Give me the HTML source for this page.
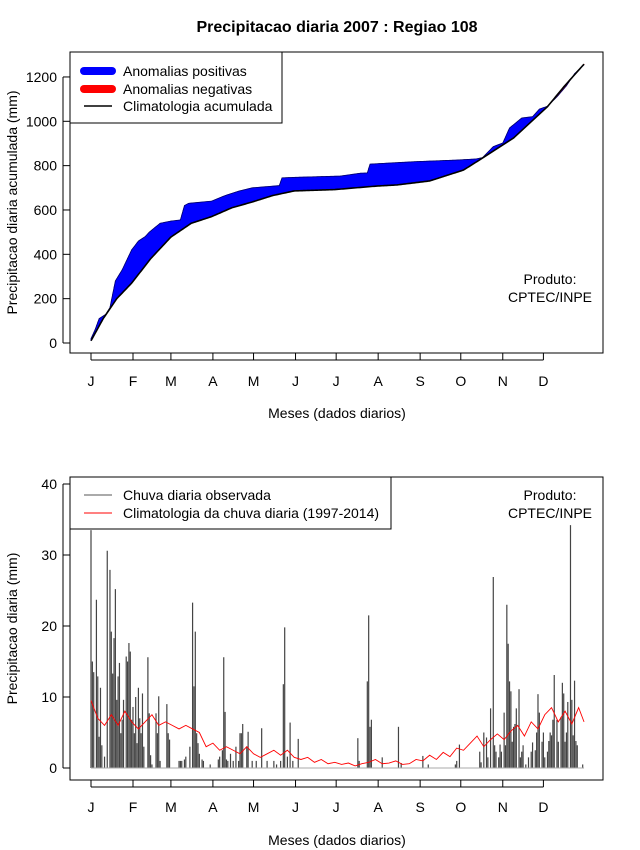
<!DOCTYPE html>
<html><head><meta charset="utf-8"><style>
body{margin:0;background:#fff}
svg{display:block;font-family:"Liberation Sans",sans-serif}
</style></head><body>
<svg id="c" width="640" height="850" viewBox="0 0 640 850" xmlns="http://www.w3.org/2000/svg">
<rect width="640" height="850" fill="#fff"/>
<text x="337" y="32" text-anchor="middle" font-size="16" font-weight="bold">Precipitacao diaria 2007 : Regiao 108</text>
<g id="top"></g>
<g id="bot"></g>
</svg>
<script>
const months = ["J","F","M","A","M","J","J","A","S","O","N","D"];
const monthStartDays = [1,32,60,91,121,152,182,213,244,274,305,335];
// Top panel: cumulative values at knot days
const obsCumDays = [1,4,7,12,15,19,24,31,36,41,44,48,52,60,67,70,73,90,100,110,120,140,142,155,185,200,205,207,240,270,285,290,298,305,310,319,327,332,338,345,352,358,365];
const obsCumVals = [20,60,110,130,160,280,330,420,460,480,500,520,540,550,555,620,630,640,665,685,700,710,745,748,753,766,767,807,818,825,830,836,886,902,970,1015,1021,1055,1068,1110,1160,1215,1255];
const climCumDays = [1,10,20,31,45,60,75,90,105,120,135,151,181,212,227,251,276,290,313,338,350,358,365];
const climCumVals = [10,110,200,270,380,478,540,570,610,636,665,686,692,708,713,731,780,834,925,1066,1155,1210,1258];
const topYTicks = [0,200,400,600,800,1000,1200];
// Bottom panel: daily observed rain
const obsDays = [1,2,3,5,6,7,8,9,11,13,15,16,17,18,19,20,21,22,23,24,25,27,28,29,30,31,32,33,34,35,36,37,38,39,40,43,44,45,46,49,50,51,52,57,58,59,66,67,68,70,71,74,76,77,78,79,80,81,83,84,89,95,96,98,99,100,101,102,104,106,108,110,111,112,113,116,117,120,123,127,131,136,138,141,143,144,146,148,150,154,198,199,205,206,207,208,216,228,230,246,250,270,271,273,288,289,291,293,294,296,298,299,300,302,303,304,306,307,308,309,310,311,312,313,314,315,317,318,319,320,322,324,326,327,329,330,331,332,334,335,336,338,339,340,341,342,343,345,346,348,349,350,351,352,353,355,356,357,358,359,360,364];
const obsVals = [33.5,15,13.5,23.7,12.9,4.4,11.3,3.2,1.6,30.6,27.9,19.2,13.3,18.3,25.2,9.6,12.9,14.8,4.9,6.8,9.6,15.7,15,17.6,16.4,6.8,8.6,4.9,10,3.5,11.3,7,4.9,10.5,3,15.6,7.7,1.8,0.5,7.7,4.9,10.1,1,9,4.9,4,1,1,1,1.2,1.6,3,23.3,11.5,19.2,4.9,3.5,2,1.2,1,0.5,1.2,1.6,2.5,15.6,7.9,1.2,1,2,1,3,1,4.9,4.9,6.2,3,5.1,1,1,5.6,1,1,0.5,1,11.8,19.8,1.6,6.4,1,4.1,4.2,1,12.2,21.5,5.8,6.8,1.5,5.8,0.7,1.7,0.5,0.5,1,3.3,2.3,0.8,5,4.3,1.5,8.4,26.9,3.2,2.3,1.5,3.3,2.3,7.8,3.2,23,17.5,12.2,10.8,3.7,5.8,6.2,8.4,11.1,1.5,2.3,3.2,0.5,1.5,2.3,3.6,2.5,5,10.4,7.8,3.7,5,1.5,2.3,3.8,5,4.6,6.8,13.1,6.8,3.7,7.2,12,10.5,3.7,5,9.3,34.2,9.6,4.6,12.3,3.8,3.2,0.5];
const climVals = [9.5,7,6,7.5,6,8,6.5, 5.5,6.5,7.5,6,6.5, 6,5.5,6,5.5,5,3, 3.5,2.5,3,2.5,2,3, 2,1.5,2,2.5,1.8,2.5,1.5, 1.2,1.5,0.8,1.2,0.6,0.8, 0.5,0.7,0.3,0.6,0.8,1.2, 0.6,0.7,1.0,0.5,0.6,1.2, 1.0,1.8,1.2,2.2,1.6,2.8, 2.5,3.5,4.5,3.0,4.0,4.8, 4.0,5.2,6.0,4.5,6.5,5.5, 7.5,8.5,6.5,8.0,6.2,8.5, 6.5];
const botYTicks = [0,10,20,30,40];

const NS="http://www.w3.org/2000/svg";
function mk(tag,attrs,parent){const e=document.createElementNS(NS,tag);for(const k in attrs)e.setAttribute(k,attrs[k]);parent.appendChild(e);return e;}
const xDay = d => 91 + (d-1)*1.3545;
const yTop = v => 343 - v*0.2217;
const yBot = v => 768 - v*7.1;
function interp(days,vals,d){for(let i=0;i<days.length-1;i++){if(d<=days[i+1]){const t=(d-days[i])/(days[i+1]-days[i]);return vals[i]+t*(vals[i+1]-vals[i]);}}return vals[vals.length-1];}

function axes(g,box,yTicks,yf,yTitle,xLabY,xTitleY,name){
  const r=mk('rect',{x:box[0],y:box[1],width:box[2]-box[0],height:box[3]-box[1],fill:'none',stroke:'#000','stroke-width':1},g);
  
  
  yTicks.forEach(v=>{
    const y=yf(v);
    const l=mk('line',{x1:box[0]-7,x2:box[0],y1:y,y2:y,stroke:'#000'},g);
    
    
    const t=mk('text',{x:box[0]-13,y:y+5,'text-anchor':'end','font-size':14},g);
    t.textContent=v;
    
    
  });
  const yl=mk('line',{x1:box[0]-7,x2:box[0]-7,y1:yf(yTicks[0]),y2:yf(yTicks[yTicks.length-1]),stroke:'#000'},g);
  
  
  monthStartDays.forEach((d,i)=>{
    const x=xDay(d);
    const l=mk('line',{x1:x,x2:x,y1:box[3],y2:box[3]+7,stroke:'#000'},g);
    
    
    const t=mk('text',{x:x,y:xLabY,'text-anchor':'middle','font-size':14},g);
    t.textContent=months[i];
    
    
  });
  const xl=mk('line',{x1:xDay(1),x2:xDay(monthStartDays[11]),y1:box[3]+7,y2:box[3]+7,stroke:'#000'},g);
  
  
  const xt=mk('text',{x:337,y:xTitleY,'text-anchor':'middle','font-size':14},g);
  xt.textContent='Meses (dados diarios)';
  
  
  const cy=(box[1]+box[3])/2;
  const yt=mk('text',{x:0,y:0,'text-anchor':'middle','font-size':14,transform:`translate(17,${cy}) rotate(-90)`},g);
  yt.textContent=yTitle;
  
  
}

// TOP PANEL
const topG=document.getElementById('top');
for(let d=1;d<365;d++){
  const o1=interp(obsCumDays,obsCumVals,d),o2=interp(obsCumDays,obsCumVals,d+1);
  const c1=interp(climCumDays,climCumVals,d),c2=interp(climCumDays,climCumVals,d+1);
  const col=((o1+o2)>=(c1+c2))?'#0000ff':'#ff0000';
  const p=mk('polygon',{points:`${xDay(d)-0.2},${yTop(o1)} ${xDay(d+1)+0.2},${yTop(o2)} ${xDay(d+1)+0.2},${yTop(c2)} ${xDay(d)-0.2},${yTop(c1)}`,fill:col,stroke:col,'stroke-width':0.4},topG);
  
  
}
let op='',cp='';
for(let d=1;d<=365;d++){op+=(d==1?'M':'L')+xDay(d).toFixed(2)+','+yTop(interp(obsCumDays,obsCumVals,d)).toFixed(2);cp+=(d==1?'M':'L')+xDay(d).toFixed(2)+','+yTop(interp(climCumDays,climCumVals,d)).toFixed(2);}
const ol=mk('path',{d:op,fill:'none',stroke:'#00006a','stroke-width':0.8},topG);


const cl=mk('path',{d:cp,fill:'none',stroke:'#000','stroke-width':1.6},topG);


axes(topG,[70,52,603,353],topYTicks,yTop,'Precipitacao diaria acumulada (mm)',386,418,'top');
const tl=mk('g',{},topG);


mk('rect',{x:70,y:52,width:212,height:71,fill:'#fff',stroke:'#000'},tl);
[['Anomalias positivas','#0000ff',8,71],['Anomalias negativas','#ff0000',8,89],['Climatologia acumulada','#000',1.5,106]].forEach(e=>{
  const l=mk('line',{x1:84,x2:112,y1:e[3],y2:e[3],stroke:e[1],'stroke-width':e[2],'stroke-linecap':e[2]>2?'round':'butt'},tl);
  
  
  const t=mk('text',{x:123,y:e[3]+5,'font-size':14},tl);
  t.textContent=e[0];
  
  
});
const p1=mk('text',{x:550,y:284,'text-anchor':'middle','font-size':14},topG);p1.textContent='Produto:';


const p2=mk('text',{x:550,y:302,'text-anchor':'middle','font-size':14},topG);p2.textContent='CPTEC/INPE';



// BOTTOM PANEL
const botG=document.getElementById('bot');
obsDays.forEach((d,i)=>{
  const l=mk('line',{x1:xDay(d),x2:xDay(d),y1:yBot(0),y2:yBot(obsVals[i]||0),stroke:'#444','stroke-width':1.2},botG);
  
  
});
const base=mk('line',{x1:xDay(1),x2:xDay(365),y1:yBot(0),y2:yBot(0),stroke:'#aaa','stroke-width':1},botG);


let rp='';
climVals.forEach((v,i)=>{const d=Math.min(1+5*i,365);rp+=(i==0?'M':'L')+xDay(d).toFixed(2)+','+yBot(v).toFixed(2);});
const rl=mk('path',{d:rp,fill:'none',stroke:'#ff0000','stroke-width':0.9},botG);


axes(botG,[70,477,603,780],botYTicks,yBot,'Precipitacao diaria (mm)',812,845,'bottom');
const bl=mk('g',{},botG);


mk('rect',{x:70,y:477,width:321,height:52,fill:'#fff',stroke:'#000'},bl);
[['Chuva diaria observada','#555',495],['Climatologia da chuva diaria (1997-2014)','#ff0000',513]].forEach(e=>{
  const l=mk('line',{x1:84,x2:112,y1:e[2],y2:e[2],stroke:e[1],'stroke-width':1},bl);
  
  
  const t=mk('text',{x:123,y:e[2]+5,'font-size':14},bl);
  t.textContent=e[0];
  
  
});
const p3=mk('text',{x:550,y:500,'text-anchor':'middle','font-size':14},botG);p3.textContent='Produto:';


const p4=mk('text',{x:550,y:518,'text-anchor':'middle','font-size':14},botG);p4.textContent='CPTEC/INPE';


</script>
</body></html>
